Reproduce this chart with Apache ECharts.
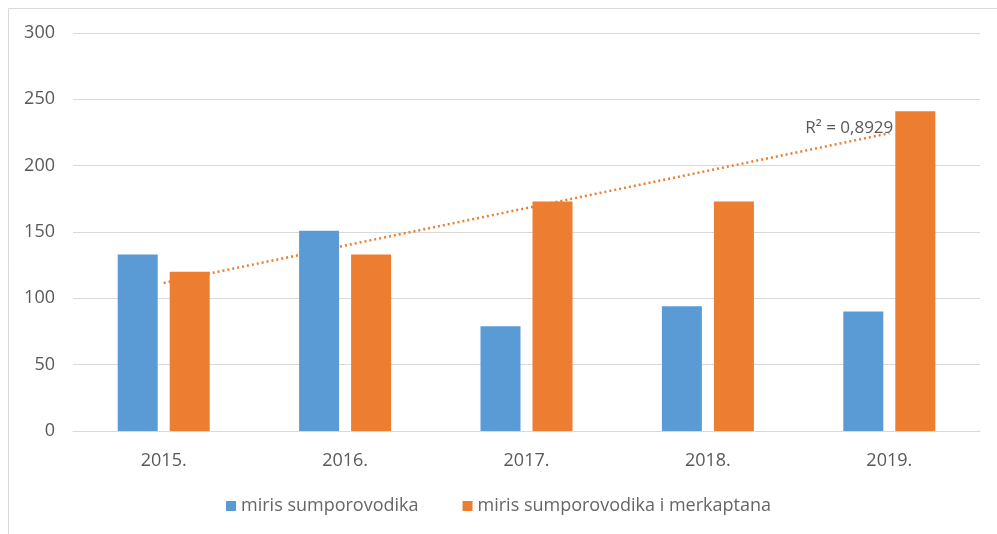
<!DOCTYPE html>
<html>
<head>
<meta charset="utf-8">
<script src="https://cdn.jsdelivr.net/npm/echarts@6/dist/echarts.min.js"></script>
<style>
  html, body { margin: 0; padding: 0; background: #fff; }
  #chart { width: 997px; height: 534px; }
</style>
</head>
<body>
<div id="chart"></div>
<script>
// Yearly counts of odour complaints
const years = ['2015.', '2016.', '2017.', '2018.', '2019.'];
const sulfide = [133, 151, 79, 94, 90];
const sulfideMercaptan = [120, 133, 173, 173, 241];
const yTicks = [0, 50, 100, 150, 200, 250, 300];
const seriesNames = ['miris sumporovodika', 'miris sumporovodika i merkaptana'];
const rSquaredText = 'R² = 0,8929';

// Linear least-squares trend of the second series over the year index
function linearTrend(values) {
  const n = values.length;
  const xs = values.map((_, i) => i + 1);
  const mx = xs.reduce((a, b) => a + b, 0) / n;
  const my = values.reduce((a, b) => a + b, 0) / n;
  let sxy = 0, sxx = 0;
  xs.forEach((x, i) => { sxy += (x - mx) * (values[i] - my); sxx += (x - mx) * (x - mx); });
  const slope = sxy / sxx;
  return xs.map(x => my + slope * (x - mx));
}
const trend = linearTrend(sulfideMercaptan);

const textColor = '#595959';
const fontFamily = 'Open Sans';

const chart = echarts.init(document.getElementById('chart'));
chart.setOption({
  animation: false,
  textStyle: { fontFamily: fontFamily, color: textColor },
  graphic: [{
    type: 'rect',
    shape: { x: 8.5, y: 8.5, width: 1000, height: 540 },
    style: { fill: 'none', stroke: '#d9d9d9', lineWidth: 1 },
    silent: true
  }],
  grid: { left: 73, right: 17, top: 33, bottom: 103, containLabel: false },
  legend: {
    bottom: 14,
    left: 'center',
    itemWidth: 10,
    itemHeight: 10,
    itemGap: 44,
    icon: 'rect',
    data: seriesNames,
    textStyle: { fontFamily: fontFamily, fontSize: 18, color: '#666666' }
  },
  xAxis: {
    type: 'category',
    data: years,
    axisLine: { lineStyle: { color: '#d9d9d9' } },
    axisTick: { show: false },
    axisLabel: { fontFamily: fontFamily, fontSize: 18, color: textColor, margin: 21 }
  },
  yAxis: {
    type: 'value',
    min: yTicks[0],
    max: yTicks[yTicks.length - 1],
    interval: yTicks[1] - yTicks[0],
    axisLine: { show: false },
    axisTick: { show: false },
    splitLine: { lineStyle: { color: '#d9d9d9', width: 1 } },
    axisLabel: { fontFamily: fontFamily, fontSize: 18, color: textColor, margin: 18 }
  },
  series: [
    {
      name: seriesNames[0],
      type: 'bar',
      data: sulfide,
      barWidth: 40,
      barGap: '30%',
      itemStyle: { color: '#5B9BD5' }
    },
    {
      name: seriesNames[1],
      type: 'bar',
      data: sulfideMercaptan,
      barWidth: 40,
      itemStyle: { color: '#ED7D31' }
    },
    {
      name: 'trend',
      type: 'line',
      data: trend,
      z: 1,
      symbol: 'none',
      showSymbol: false,
      lineStyle: { color: '#ED7D31', width: 2.5, type: [2, 3] },
      endLabel: {
        show: true,
        formatter: rSquaredText,
        fontFamily: fontFamily,
        fontSize: 17,
        color: textColor,
        align: 'right',
        verticalAlign: 'bottom',
        distance: 0,
        offset: [4, 3]
      },
      emphasis: { disabled: true },
      tooltip: { show: false }
    }
  ]
});
</script>
</body>
</html>
